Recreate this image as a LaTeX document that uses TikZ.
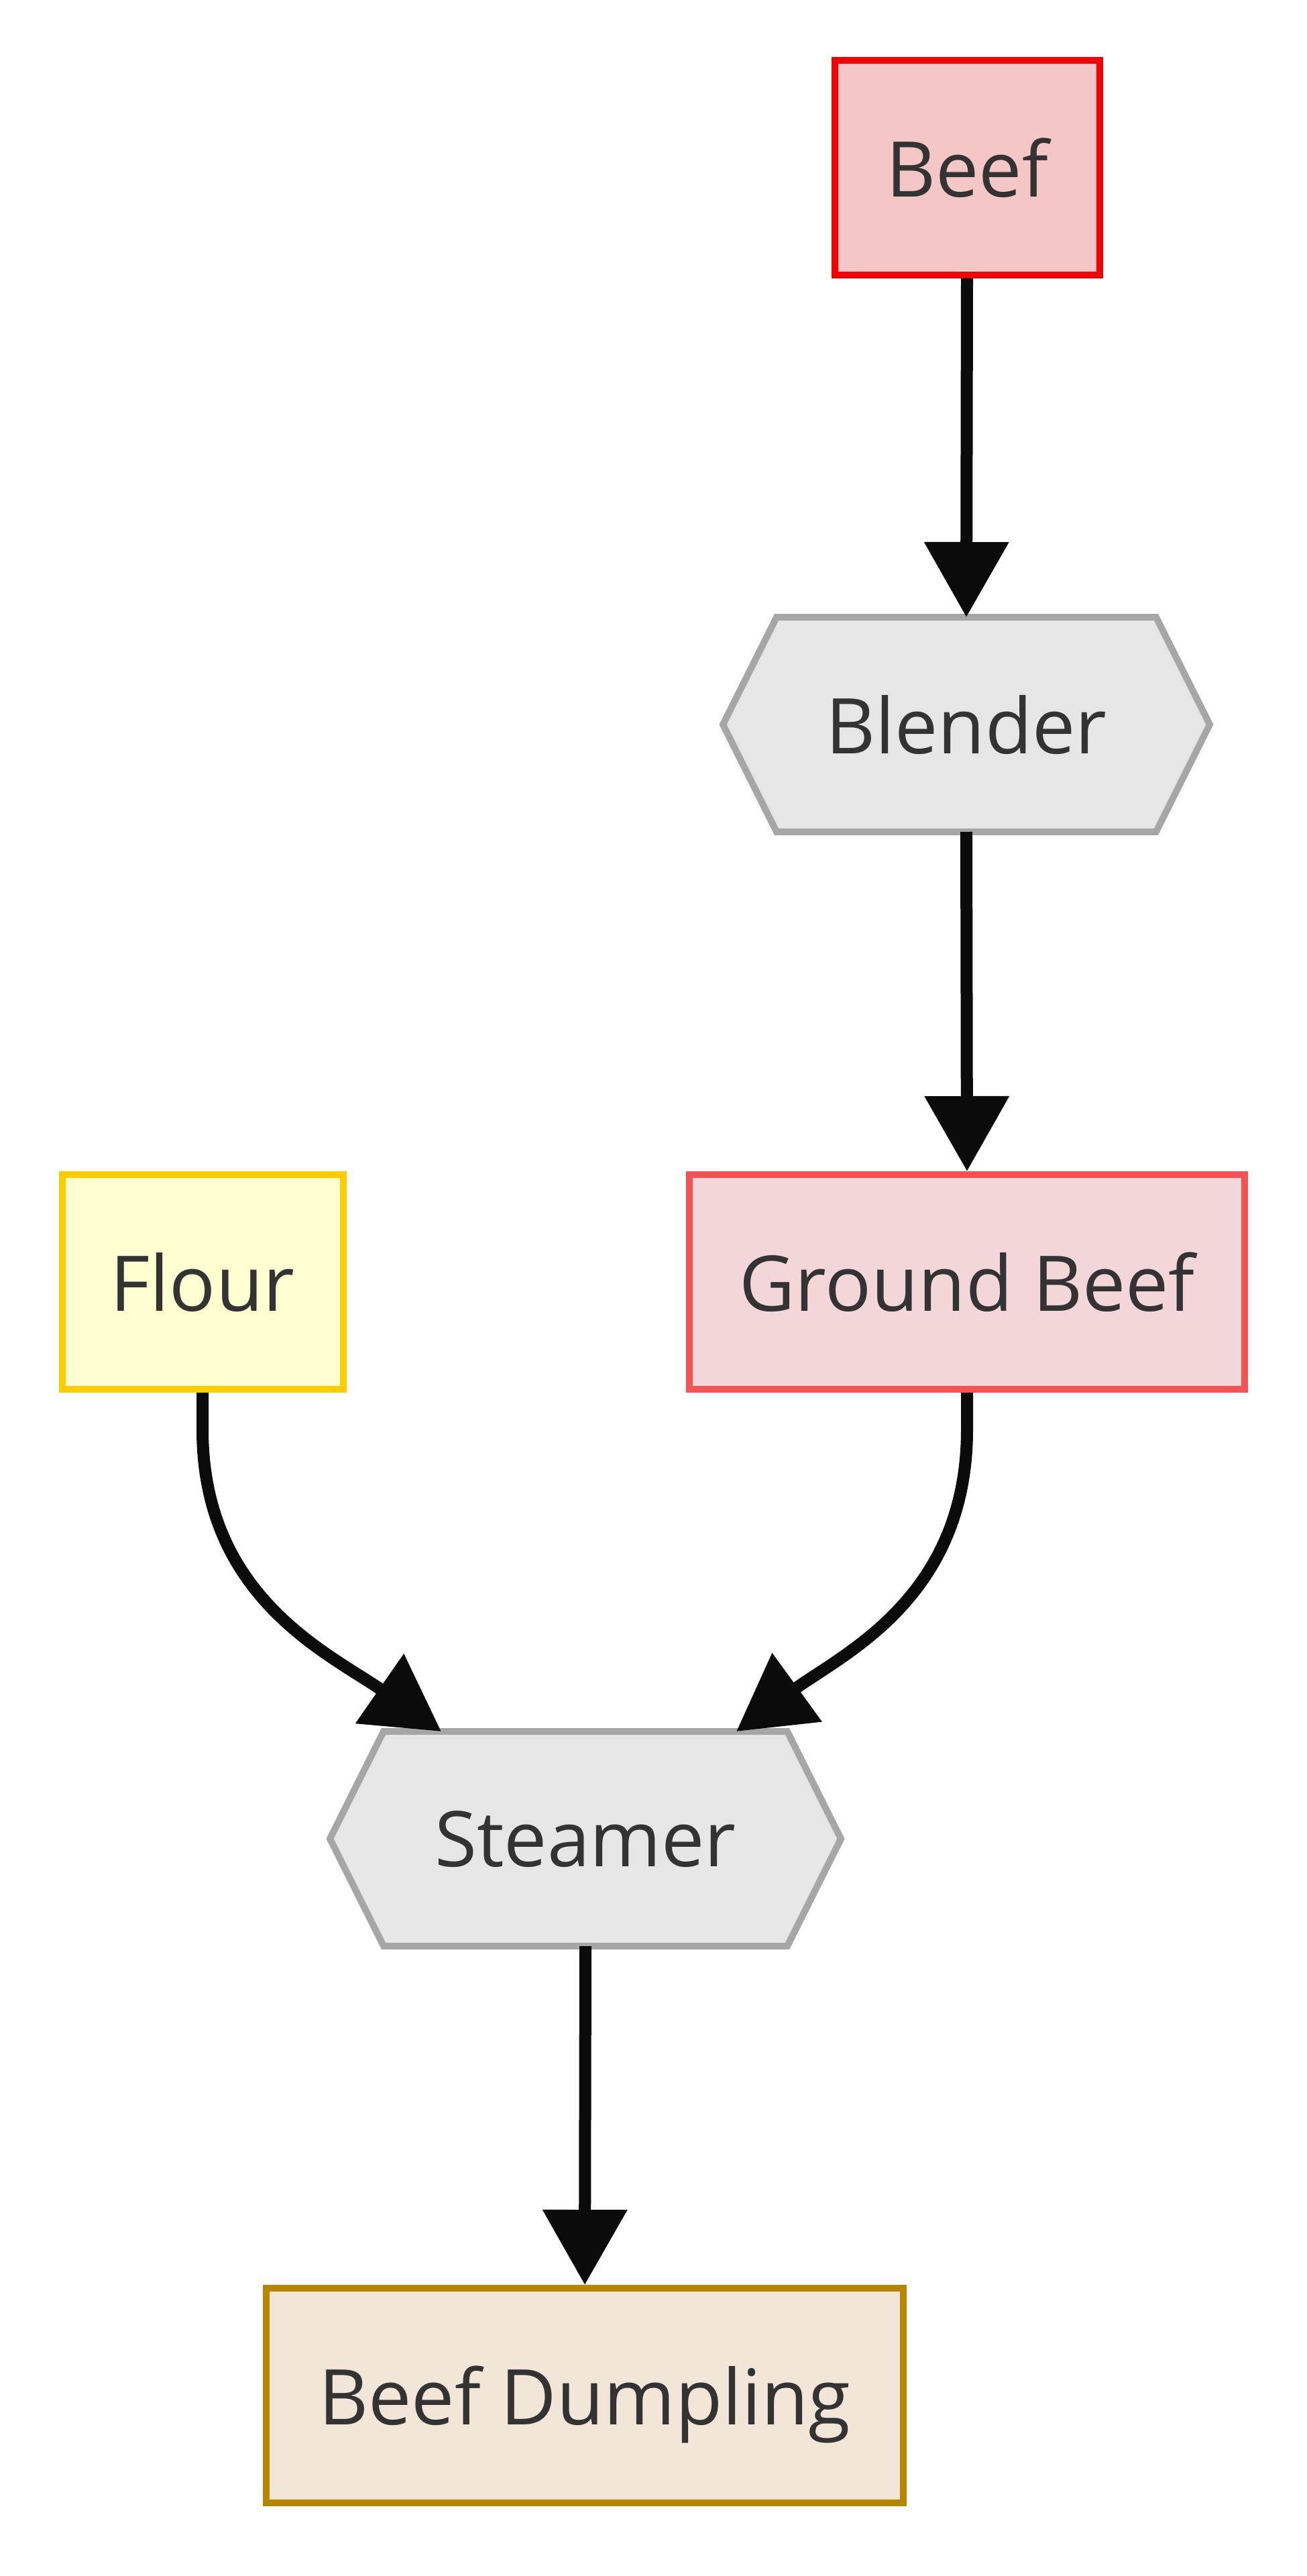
\documentclass[tikz,border=0pt]{standalone}
\usepackage{fontspec}
\setmainfont{Open Sans}
\usetikzlibrary{arrows.meta,backgrounds}
\definecolor{ink}{HTML}{333333}
\definecolor{arrowblk}{HTML}{0B0B0B}
\definecolor{beeffill}{HTML}{F4C6C6}
\definecolor{beefline}{HTML}{F40000}
\definecolor{hexfill}{HTML}{E6E6E6}
\definecolor{hexline}{HTML}{A6A6A6}
\definecolor{flourfill}{HTML}{FFFFD0}
\definecolor{flourline}{HTML}{FFCC00}
\definecolor{groundfill}{HTML}{F3D6D7}
\definecolor{groundline}{HTML}{F55353}
\definecolor{dumplingfill}{HTML}{F2E6D8}
\definecolor{dumplingline}{HTML}{B68600}

\begin{document}
\begin{tikzpicture}[
    box/.style={draw, line width=0.1cm, minimum height=3.2cm, inner sep=0pt, text depth=0pt, text=ink, font=\fontsize{32.6}{38}\selectfont},
    hexbox/.style={box, draw=none, minimum height=3.1cm, outer sep=0.05cm},
    flow/.style={line width=0.18cm, draw=arrowblk, -{Triangle[length=1.12cm,width=1.22cm]}},
  ]
  \useasboundingbox (0,0) rectangle (19.49,-38.4);

  % nodes
  \node[box, draw=beefline, fill=beeffill, minimum width=3.95cm] (beef) at (14.42,-2.5) {Beef};
  \node[hexbox, minimum width=5.56cm] (blender) at (14.41,-10.8) {Blender};
  \node[box, draw=flourline, fill=flourfill, minimum width=4.19cm] (flour) at (3.02,-19.11) {Flour};
  \node[box, draw=groundline, fill=groundfill, minimum width=8.28cm] (ground) at (14.42,-19.11) {Ground Beef};
  \node[hexbox, minimum width=5.92cm] (steamer) at (8.73,-27.41) {Steamer};
  \node[box, draw=dumplingline, fill=dumplingfill, minimum width=9.5cm] (dumpling) at (8.72,-35.71) {Beef Dumpling};

  % hexagon outlines behind the labels
  \begin{scope}[on background layer]
    \foreach \n in {blender, steamer} {
      \filldraw[draw=hexline, fill=hexfill, line width=0.1cm]
        (\n.north west) -- (\n.north east) -- ([xshift=0.8cm]\n.east)
        -- (\n.south east) -- (\n.south west) -- ([xshift=-0.8cm]\n.west) -- cycle;
    }
  \end{scope}

  % connectors
  \draw[flow] (beef.south) -- (blender.north);
  \draw[flow] (blender.south) -- (ground.north);
  \draw[flow] (flour.south) -- ++(0,-0.55) .. controls +(0,-2.5) and +(-1.67,1.16) .. ([xshift=-2.15cm]steamer.north);
  \draw[flow] (ground.south) -- ++(0,-0.55) .. controls +(0,-2.5) and +(1.6,1.16) .. ([xshift=2.25cm]steamer.north);
  \draw[flow] (steamer.south) -- (dumpling.north);
\end{tikzpicture}
\end{document}
